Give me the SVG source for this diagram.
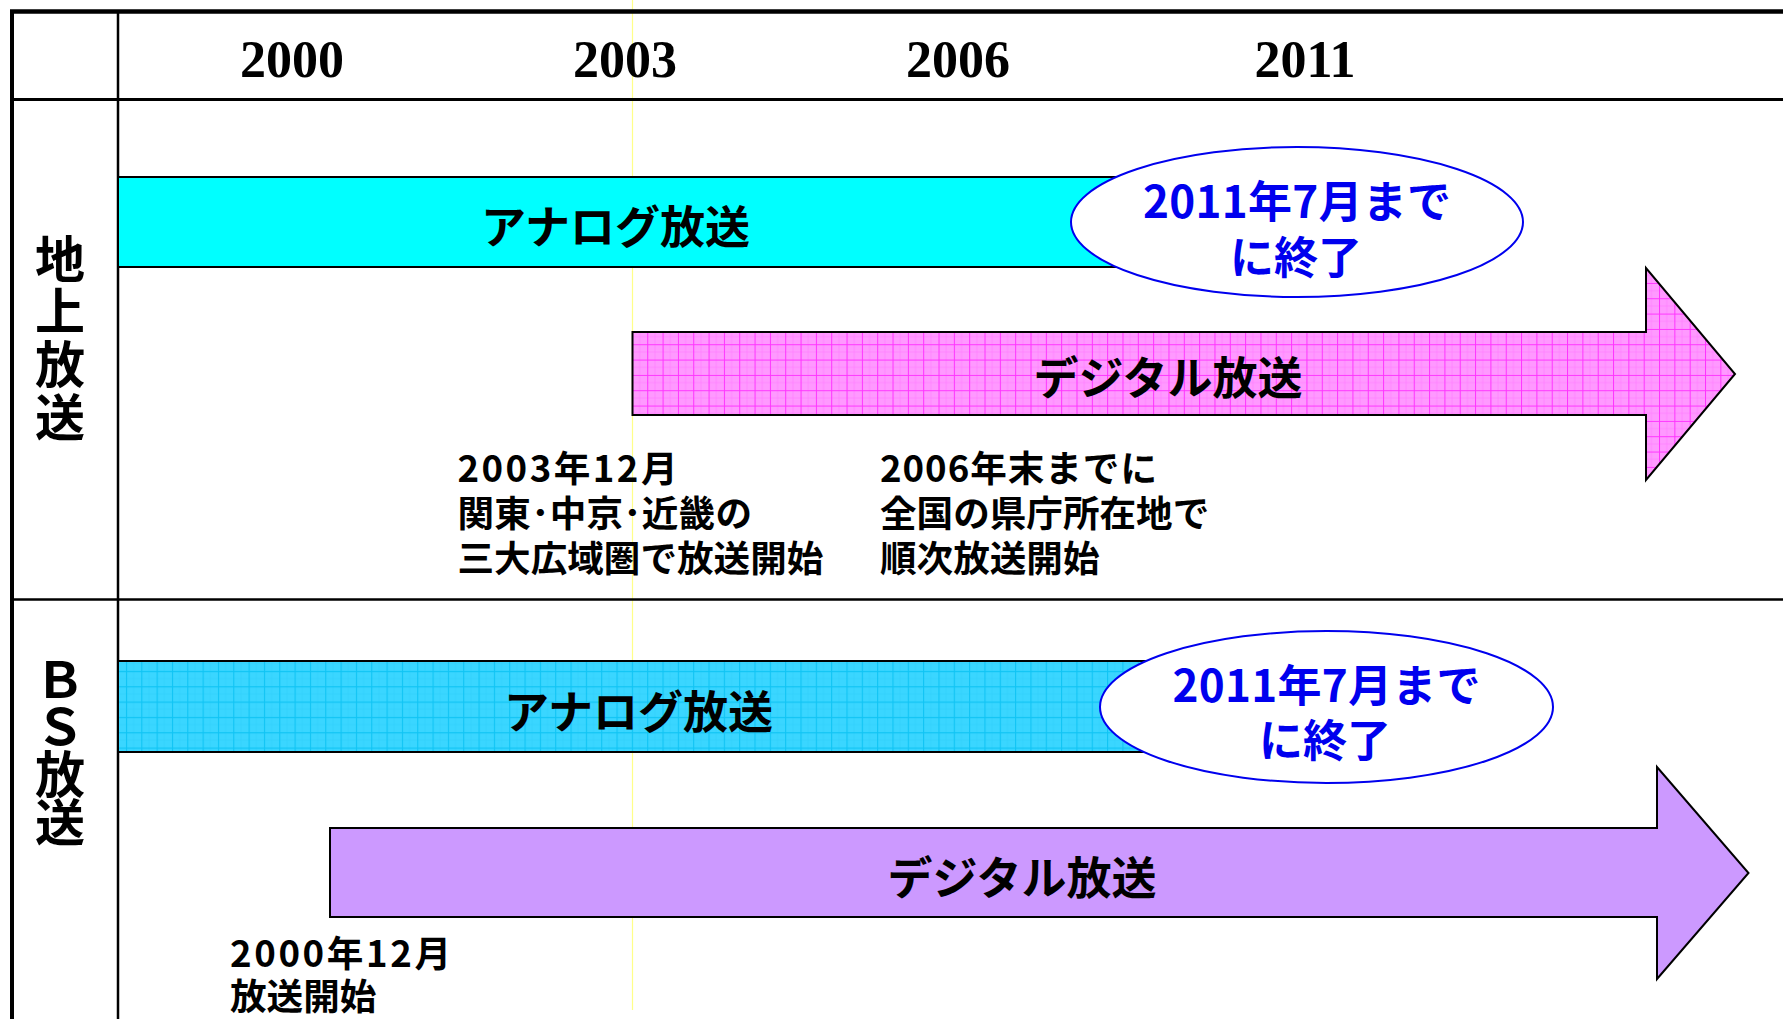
<svg xmlns="http://www.w3.org/2000/svg" width="1783" height="1019" viewBox="0 0 1783 1019">
<defs>
<pattern id="pinkGrid" patternUnits="userSpaceOnUse" x="3.4" y="7" width="15.33" height="15.33">
<rect width="15.33" height="15.33" fill="#FF99FF"/>
<path d="M7.67 0V15.33M0 7.67H15.33" stroke="#FF7AFF" stroke-width="0.6"/>
<path d="M0.5 0V15.33M0 0.5H15.33" stroke="#FF33FF" stroke-width="1"/>
</pattern>
<pattern id="blueGrid" patternUnits="userSpaceOnUse" x="3.3" y="11.7" width="15.33" height="15.33">
<rect width="15.33" height="15.33" fill="#3AD6FF"/>
<path d="M7.67 0V15.33M0 7.67H15.33" stroke="#2ECFFA" stroke-width="0.6"/>
<path d="M0.5 0V15.33M0 0.5H15.33" stroke="#10C4F4" stroke-width="1.2"/>
</pattern>
<style>
.jp{font-family:"Noto Sans CJK JP","Noto Sans CJK SC",sans-serif;}
.b{font-weight:700;}
.year{font-family:"Liberation Serif","Times New Roman",serif;font-weight:700;font-size:52px;fill:#000;text-anchor:middle;}
.side{font-size:50px;fill:#000;font-weight:700;writing-mode:vertical-rl;text-orientation:upright;}
.band{font-size:45px;fill:#000;text-anchor:middle;}
.note{font-size:36.6px;fill:#000;}
.blue{font-size:44px;fill:#0000EE;text-anchor:middle;}
.frame{stroke:#000;fill:none;}
.shape{stroke:#000;stroke-width:2;}
.oval{fill:#FFFFFF;stroke:#0000EE;stroke-width:2;}
</style>
</defs>
<rect width="1783" height="1019" fill="#FFFFFF"/>

<g id="grid">
<line x1="632.5" y1="0" x2="632.5" y2="1010" stroke="#FFFF88" stroke-width="1.2"/>
<line class="frame" x1="10" y1="11.5" x2="1783" y2="11.5" stroke-width="4.5"/>
<line class="frame" x1="12" y1="10" x2="12" y2="1019" stroke-width="4"/>
<line class="frame" x1="118" y1="10" x2="118" y2="1019" stroke-width="2.5"/>
<line class="frame" x1="12" y1="99.5" x2="1783" y2="99.5" stroke-width="3"/>
<line class="frame" x1="12" y1="599.5" x2="1783" y2="599.5" stroke-width="2.5"/>
</g>

<g id="years">
<text class="year" x="292" y="77">2000</text>
<text class="year" x="625" y="77">2003</text>
<text class="year" x="958" y="77">2006</text>
<text class="year" x="1305" y="77">2011</text>
</g>

<g id="label-terrestrial">
<text class="jp side" x="60" y="233.5" letter-spacing="2.7">地上放送</text>
</g>
<g id="label-bs">
<text class="jp side" x="60" y="654" letter-spacing="-2.5">ＢＳ放送</text>
</g>

<g id="terrestrial-analog">
<rect class="shape" x="118" y="177" width="1030" height="90" fill="#00FFFF"/>
<text class="jp b band" x="615.5" y="244">アナログ放送</text>
</g>
<g id="terrestrial-end">
<ellipse class="oval" cx="1297" cy="222" rx="226" ry="75"/>
<text class="jp b blue" x="1297" y="218" textLength="308" lengthAdjust="spacing">2011年7月まで</text>
<text class="jp b blue" x="1296" y="274">に終了</text>
</g>
<g id="terrestrial-digital">
<path class="shape" d="M632.5 332H1646V268L1735 374L1646 480V415H632.5Z" fill="url(#pinkGrid)"/>
<text class="jp b band" x="1168" y="395">デジタル放送</text>
</g>
<g id="note-2003">
<text class="jp b note" x="457.5" y="482" textLength="220" lengthAdjust="spacing">2003年12月</text>
<text class="jp b note" x="457.5" y="527" textLength="294.5" lengthAdjust="spacing">関東･中京･近畿の</text>
<text class="jp b note" x="457.5" y="572">三大広域圏で放送開始</text>
</g>
<g id="note-2006">
<text class="jp b note" x="880" y="482" textLength="277" lengthAdjust="spacing">2006年末までに</text>
<text class="jp b note" x="880" y="527">全国の県庁所在地で</text>
<text class="jp b note" x="880" y="572">順次放送開始</text>
</g>

<g id="bs-analog">
<rect class="shape" x="118" y="661" width="1060" height="91" fill="url(#blueGrid)"/>
<text class="jp b band" x="638.5" y="729">アナログ放送</text>
</g>
<g id="bs-end">
<ellipse class="oval" cx="1326.5" cy="707" rx="226.5" ry="76"/>
<text class="jp b blue" x="1326.5" y="702" textLength="308" lengthAdjust="spacing">2011年7月まで</text>
<text class="jp b blue" x="1325" y="757">に終了</text>
</g>
<g id="bs-digital">
<path class="shape" d="M330 828H1657V767L1748.5 873L1657 979V917H330Z" fill="#CC99FF"/>
<text class="jp b band" x="1022" y="895">デジタル放送</text>
</g>
<g id="note-2000">
<text class="jp b note" x="230" y="967" textLength="221" lengthAdjust="spacing">2000年12月</text>
<text class="jp b note" x="230" y="1010">放送開始</text>
</g>
<g id="connectors"/>
</svg>
